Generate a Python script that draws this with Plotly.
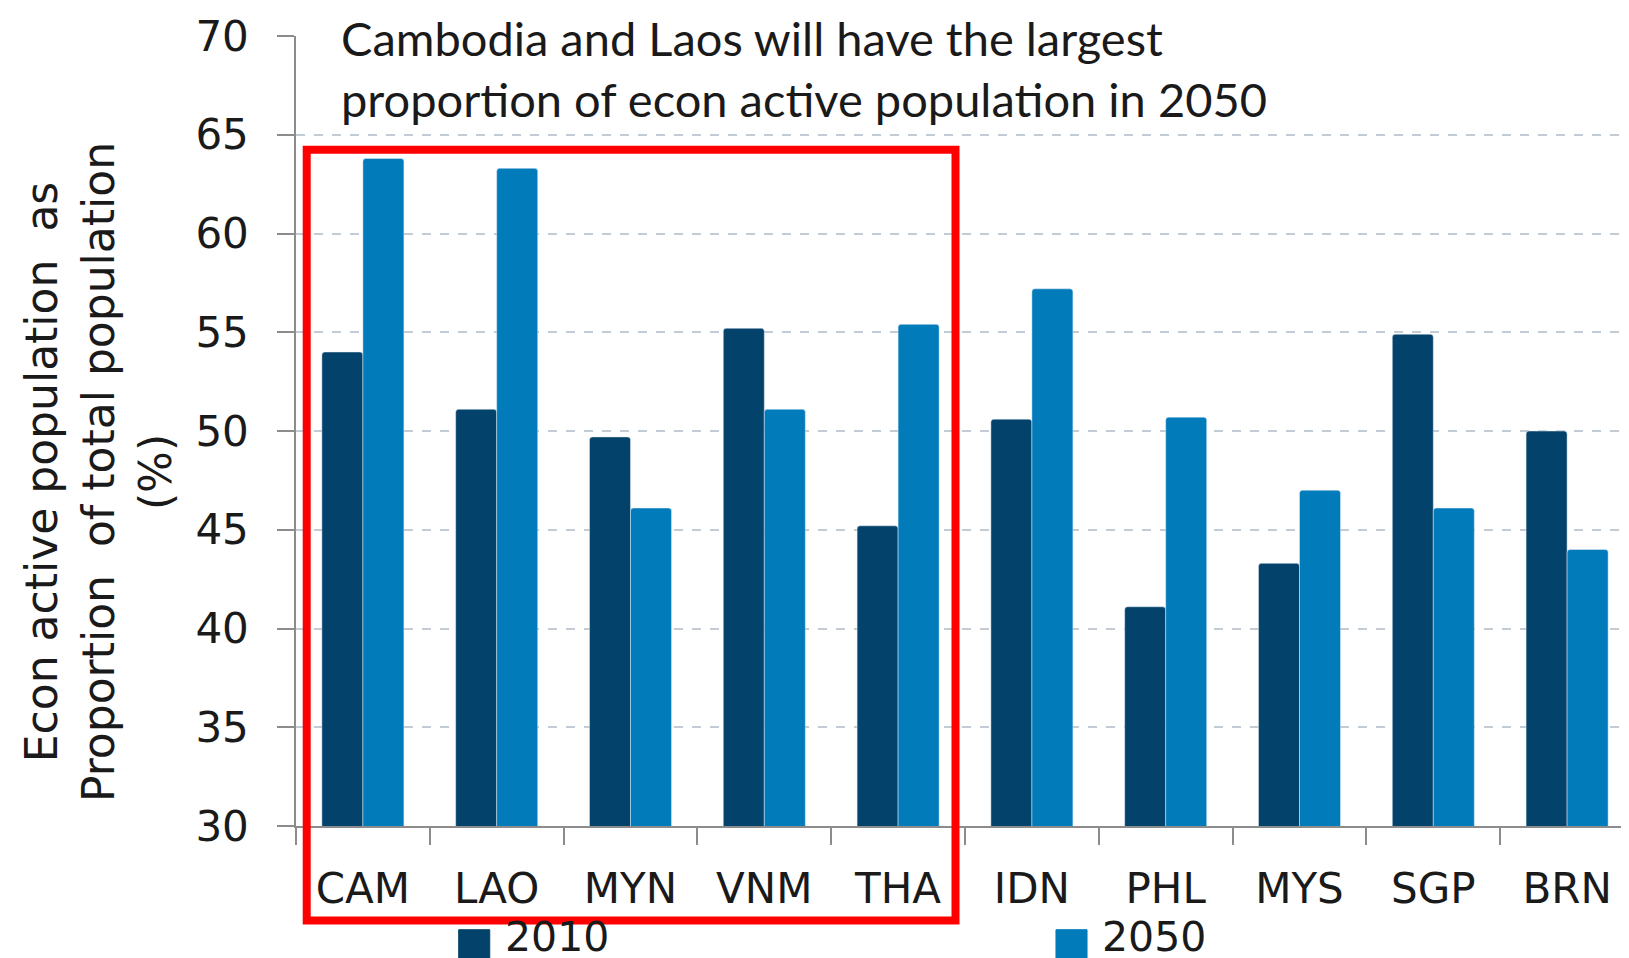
import plotly.graph_objects as go

# --- data ---
countries = ["CAM", "LAO", "MYN", "VNM", "THA", "IDN", "PHL", "MYS", "SGP", "BRN"]
share_2010 = [54.0, 51.1, 49.7, 55.2, 45.2, 50.6, 41.1, 43.3, 54.9, 50.0]
share_2050 = [63.8, 63.3, 46.1, 51.1, 55.4, 57.2, 50.7, 47.0, 46.1, 44.0]
y_ticks = [30, 35, 40, 45, 50, 55, 60, 65, 70]
series_names = ["2010", "2050"]

DARK = "#03426a"
LIGHT = "#017bba"
TICK_FONT = "DejaVu Sans"
TEXT = "#1a1a1a"

fig = go.Figure()
fig.add_trace(go.Bar(x=countries, y=share_2010, name=series_names[0], marker_color=DARK))
fig.add_trace(go.Bar(x=countries, y=share_2050, name=series_names[1], marker_color=LIGHT))

fig.update_layout(
    width=1629,
    height=958,
    margin=dict(l=288, r=3, t=28, b=140, autoexpand=False),
    paper_bgcolor="white",
    plot_bgcolor="white",
    barmode="group",
    bargap=0.387,
    bargroupgap=0,
    barcornerradius=3,
    font=dict(family=TICK_FONT, size=42, color=TEXT),
    showlegend=False,
)

fig.update_yaxes(
    range=[30, 70],
    tickvals=y_ticks,
    showgrid=True,
    gridcolor="#c3ccd4",
    griddash="dash",
    gridwidth=1.5,
    zeroline=False,
    showline=True,
    linecolor="#8c8c8c",
    linewidth=1.5,
    ticks="outside",
    ticklen=17,
    tickwidth=1.5,
    tickcolor="#8c8c8c",
    ticklabelstandoff=20,
    tickfont=dict(family=TICK_FONT, size=42, color=TEXT),
)
fig.update_xaxes(
    showline=True,
    linecolor="#8c8c8c",
    linewidth=2,
    ticks="outside",
    tickson="boundaries",
    ticklen=17,
    tickwidth=1.5,
    tickcolor="#8c8c8c",
    ticklabelstandoff=25,
    tickfont=dict(family=TICK_FONT, size=42, color=TEXT),
)

# y-axis title as a rotated annotation (it sits lower than the plot centre)
fig.add_annotation(
    text="Econ active population  as<br>Proportion  of total population<br>(%)",
    xref="paper", yref="paper",
    x=-0.148, y=0.448,
    xanchor="center", yanchor="middle",
    textangle=-90,
    showarrow=False,
    font=dict(family=TICK_FONT, size=44, color=TEXT),
)

# headline text inside the plot
fig.add_annotation(
    text="Cambodia and Laos will have the largest<br>proportion of econ active population in 2050",
    xref="paper", yref="paper",
    x=0.032, y=1.035,
    xanchor="left", yanchor="top",
    align="left",
    showarrow=False,
    font=dict(family="Lato", size=47, color=TEXT),
)

# red highlight box around the first five countries
fig.add_shape(
    type="rect",
    xref="paper", yref="paper",
    x0=0.008, x1=0.4929, y0=-0.1196, y1=0.856,
    line=dict(color="#ff0000", width=8),
    fillcolor="rgba(0,0,0,0)",
    layer="above",
)

# legend drawn below the axis: tall swatch + label for each series
legend_items = [(series_names[0], DARK, 0.1216, 0.1547),
                (series_names[1], LIGHT, 0.5680, 0.6010)]
for name, colour, sx, tx in legend_items:
    fig.add_shape(
        type="rect",
        xref="paper", yref="paper",
        x0=sx, x1=sx + 0.0232, y0=-0.1720, y1=-0.1313,
        line=dict(color=colour, width=1),
        fillcolor=colour,
    )
    fig.add_annotation(
        text=name,
        xref="paper", yref="paper",
        x=tx, y=-0.140,
        xanchor="left", yanchor="middle",
        showarrow=False,
        font=dict(family=TICK_FONT, size=41, color=TEXT),
    )

fig.write_html("out.html")
